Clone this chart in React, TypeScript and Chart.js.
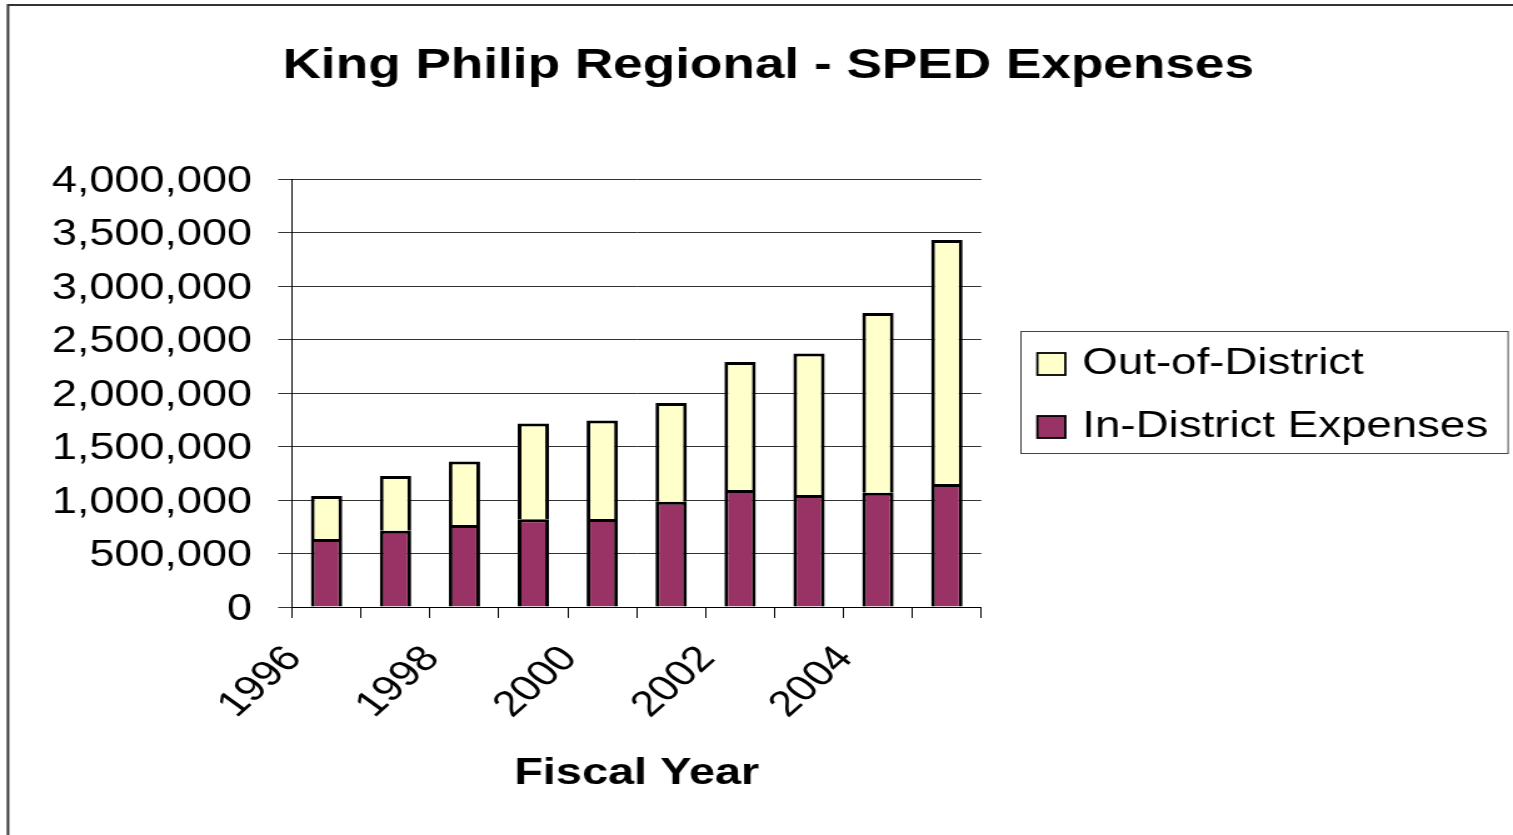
import React, { useEffect, useRef } from 'react';
import { Chart, registerables } from 'chart.js';

Chart.register(...registerables);

// ---- data ----
const years = ['1996', '1997', '1998', '1999', '2000', '2001', '2002', '2003', '2004', '2005'];
const inDistrict = [635000, 713000, 766000, 820000, 822000, 984000, 1093000, 1047000, 1068000, 1150000];
const outOfDistrict = [402000, 511000, 594000, 895000, 921000, 923000, 1197000, 1322000, 1680000, 2280000];
const seriesNames = ['In-District Expenses', 'Out-of-District'];
const seriesColors = ['#993366', '#FFFFCC'];
const yMax = 4000000;
const yStep = 500000;
const chartTitle = 'King Philip Regional - SPED Expenses';
const xAxisTitle = 'Fiscal Year';

// ---- layout (internal canvas units; canvas is stretched horizontally) ----
const PAGE_W = 1513;
const PAGE_H = 835;
const SX = 1.25;
const W = Math.round(PAGE_W / SX);
const FONT = '"Liberation Sans", Arial, sans-serif';

const decorPlugin = {
  id: 'decor',
  afterDraw(chart: any) {
    const ctx = chart.ctx;
    ctx.save();
    // outer frame
    ctx.strokeStyle = '#333333';
    ctx.lineWidth = 2;
    ctx.beginPath();
    ctx.moveTo(6.4, PAGE_H + 10);
    ctx.lineTo(6.4, 5);
    ctx.lineTo(W + 10, 5);
    ctx.stroke();

    // title
    ctx.fillStyle = '#000';
    ctx.font = `bold 42.5px ${FONT}`;
    ctx.textAlign = 'center';
    ctx.textBaseline = 'alphabetic';
    ctx.fillText(chartTitle, 614.4, 77.5);

    // legend box
    const lx = 816, ly = 331, lw = 389.6, lh = 122;
    ctx.strokeStyle = '#444';
    ctx.lineWidth = 1;
    ctx.strokeRect(lx + 0.5, ly + 0.5, lw, lh);
    const ds = chart.data.datasets.slice().reverse();
    ctx.font = `36.5px ${FONT}`;
    ctx.textAlign = 'left';
    ds.forEach((d: any, i: number) => {
      const rowY = 353 + i * 63;
      ctx.fillStyle = d.backgroundColor;
      ctx.fillRect(829.6, rowY, 22.4, 22);
      ctx.strokeStyle = '#000';
      ctx.lineWidth = 1.8;
      ctx.strokeRect(829.6, rowY, 22.4, 22);
      ctx.fillStyle = '#000';
      ctx.fillText(d.label, 865.6, 374 + i * 62.5);
    });
    ctx.restore();
  },
};

export default function App() {
  const ref = useRef<HTMLCanvasElement>(null);

  useEffect(() => {
    if (!ref.current) return;
    const chart = new Chart(ref.current, {
      type: 'bar',
      data: {
        labels: years,
        datasets: [
          {
            label: seriesNames[0],
            data: inDistrict,
            backgroundColor: seriesColors[0],
            borderColor: '#000',
            borderWidth: 3,
          },
          {
            label: seriesNames[1],
            data: outOfDistrict,
            backgroundColor: seriesColors[1],
            borderColor: '#000',
            borderWidth: 3,
          },
        ],
      },
      options: {
        animation: false,
        responsive: false,
        devicePixelRatio: 1,
        layout: { padding: { left: 0, top: 179, right: W - 784.8, bottom: 0 } },
        datasets: { bar: { categoryPercentage: 1, barPercentage: 0.455 } },
        plugins: {
          legend: { display: false },
          title: { display: false },
          tooltip: { enabled: false },
        },
        scales: {
          x: {
            stacked: true,
            offset: true,
            afterFit: (s: any) => { s.height = PAGE_H - 607; },
            grid: {
              display: true,
              drawOnChartArea: false,
              drawTicks: true,
              tickLength: 11,
              offset: true,
              color: '#000',
              lineWidth: 1,
            },
            border: { display: true, color: '#000', width: 1 },
            ticks: {
              autoSkip: false,
              maxRotation: 48,
              minRotation: 48,
              padding: 20,
              labelOffset: -26,
              color: '#000',
              font: { family: FONT, size: 36 },
              callback: (_v: any, i: number) => (i % 2 === 0 ? years[i] : ''),
            },
            title: {
              display: true,
              text: xAxisTitle,
              color: '#000',
              font: { family: FONT, size: 37.5, weight: 'bold' },
              padding: { top: 0, bottom: 38.5 },
            },
          },
          y: {
            stacked: true,
            min: 0,
            max: yMax,
            afterFit: (s: any) => { s.width = 233.6; },
            grid: {
              color: '#333',
              lineWidth: 1,
              drawTicks: true,
              tickLength: 11.2,
            },
            border: { display: true, color: '#000', width: 1 },
            ticks: {
              stepSize: yStep,
              padding: 20.8,
              labelOffset: 3,
              color: '#000',
              font: { family: FONT, size: 36 },
              callback: (v: any) => Number(v).toLocaleString('en-US'),
            },
          },
        },
      },
      plugins: [decorPlugin],
    });
    return () => chart.destroy();
  }, []);

  return (
    <div style={{ position: 'fixed', left: 0, top: 0, width: PAGE_W, height: PAGE_H, overflow: 'hidden', background: '#fff' }}>
      <canvas
        ref={ref}
        width={W}
        height={PAGE_H}
        style={{ width: PAGE_W + 'px', height: PAGE_H + 'px', display: 'block' }}
      />
    </div>
  );
}
